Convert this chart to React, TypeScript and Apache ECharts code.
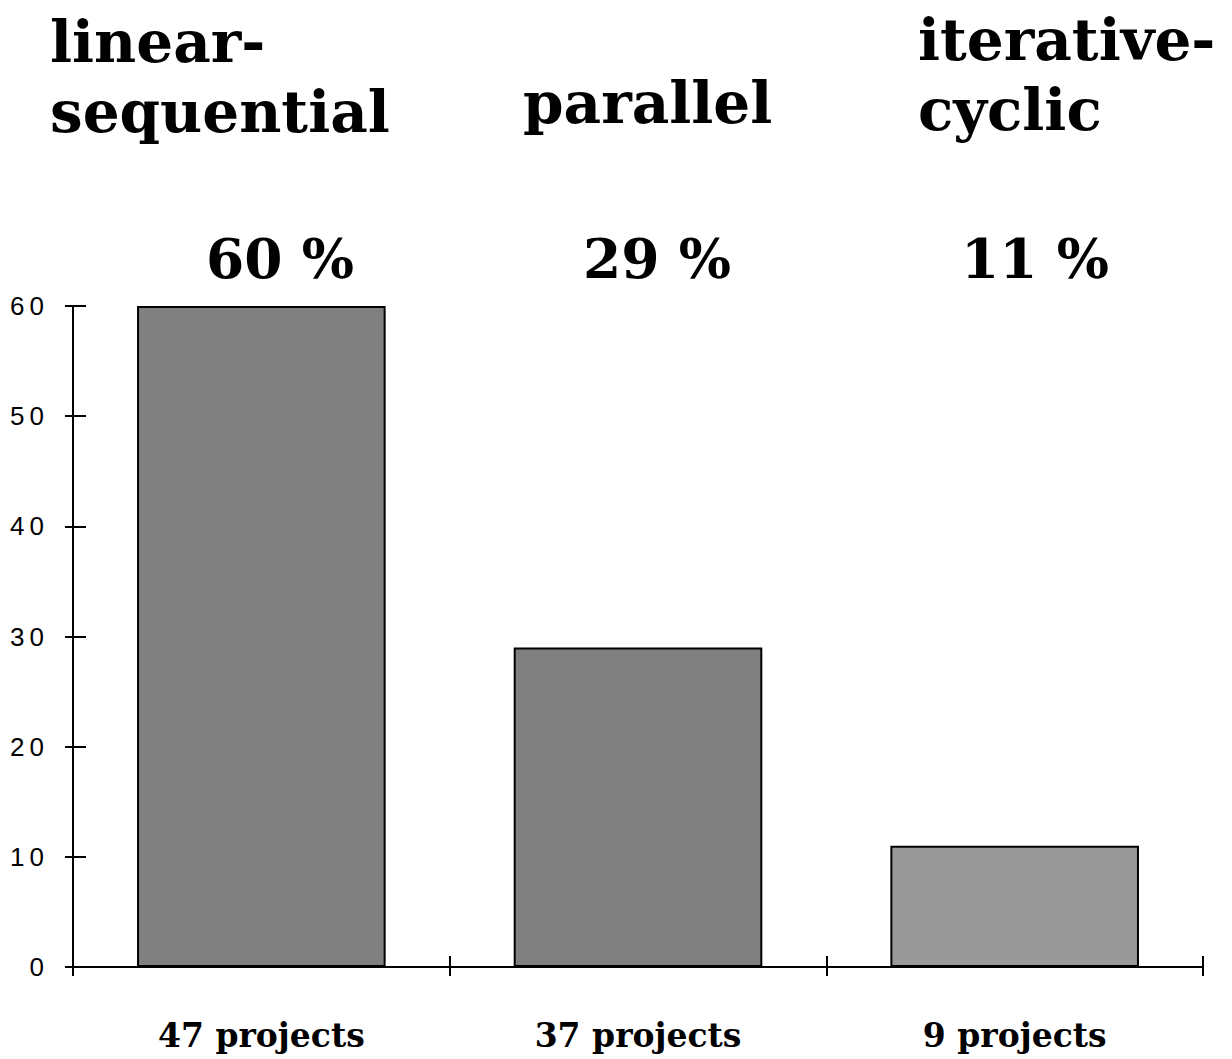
import React, { useEffect, useRef } from "react";
import * as echarts from "echarts";

const categories = ["47 projects", "37 projects", "9 projects"];
const values = [60, 29, 11];
const barColors = ["#808080", "#808080", "#999999"];
const titles = ["linear-\nsequential", "parallel", "iterative-\ncyclic"];
const percents = ["60 %", "29 %", "11 %"];
const yTicks = [0, 10, 20, 30, 40, 50, 60];

const SERIF = "'DejaVu Serif', serif";

export default function App() {
  const ref = useRef<HTMLDivElement>(null);
  useEffect(() => {
    const chart = echarts.init(ref.current!, null, { renderer: "svg" });
    const titleX = [50, 523, 918];
    const titleY = [7, 68, 5];
    const pctX = [280, 657, 1035];
    chart.setOption({
      animation: false,
      backgroundColor: "#ffffff",
      grid: { left: 73, right: 29, top: 306, bottom: 92 },
      xAxis: [
        {
          type: "category",
          data: categories,
          position: "bottom",
          axisLine: { show: true, lineStyle: { color: "#000", width: 2 } },
          axisTick: { show: true, inside: false, length: 9, lineStyle: { color: "#000", width: 2 } },
          axisLabel: {
            margin: 52,
            color: "#000",
            fontFamily: SERIF,
            fontWeight: "bold",
            fontSize: 33,
          },
        },
        {
          type: "category",
          data: categories,
          position: "bottom",
          axisLine: { show: false },
          axisTick: { show: true, inside: true, length: 11, lineStyle: { color: "#000", width: 2 } },
          axisLabel: { show: false },
        },
      ],
      yAxis: [
        {
          type: "value",
          min: yTicks[0],
          max: yTicks[yTicks.length - 1],
          interval: 10,
          position: "left",
          axisLine: { show: true, lineStyle: { color: "#000", width: 2 } },
          axisTick: { show: true, inside: false, length: 8, lineStyle: { color: "#000", width: 2 } },
          splitLine: { show: false },
          axisLabel: {
            margin: 29,
            color: "#000",
            fontFamily: "'Liberation Sans', Arial, sans-serif",
            fontSize: 26,
            formatter: (v: number) => String(v).split("").join("\u2009"),
          },
        },
        {
          type: "value",
          min: yTicks[0],
          max: yTicks[yTicks.length - 1],
          interval: 10,
          position: "left",
          offset: 0,
          axisLine: { show: false },
          axisTick: { show: true, inside: true, length: 13, lineStyle: { color: "#000", width: 2 } },
          splitLine: { show: false },
          axisLabel: { show: false },
        },
      ],
      series: [
        {
          type: "bar",
          xAxisIndex: 0,
          yAxisIndex: 0,
          barWidth: "66%",
          data: values.map((v, i) => ({
            value: v,
            itemStyle: { color: barColors[i], borderColor: "#000", borderWidth: 2 },
          })),
        },
      ],
      graphic: [
        ...titles.map((t, i) => ({
          type: "text",
          left: titleX[i],
          top: titleY[i],
          style: {
            text: t,
            font: `bold 58px ${SERIF}`,
            fill: "#000",
            lineHeight: 70,
          },
        })),
        ...percents.map((p, i) => ({
          type: "text",
          x: pctX[i],
          y: 258,
          style: {
            text: p,
            font: `bold 55px ${SERIF}`,
            fill: "#000",
            textAlign: "center",
            textVerticalAlign: "middle",
          },
        })),
      ],
    });
    return () => chart.dispose();
  }, []);
  return (
    <div
      ref={ref}
      style={{ position: "absolute", left: 0, top: 0, width: 1232, height: 1059, background: "#fff" }}
    />
  );
}
